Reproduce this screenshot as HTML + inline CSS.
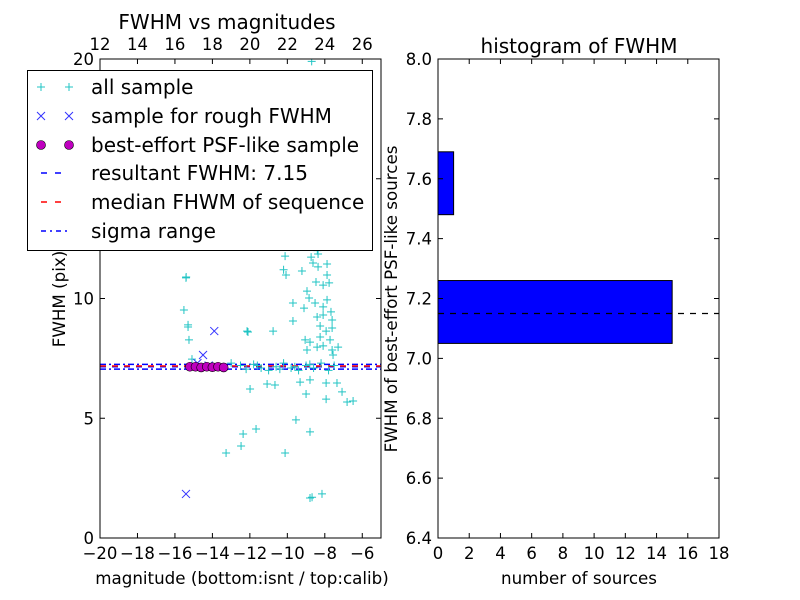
<!DOCTYPE html>
<html><head><meta charset="utf-8"><style>
html,body{margin:0;padding:0;background:#fff;}
svg{display:block;font-family:"DejaVu Sans","Liberation Sans",sans-serif;}
</style></head><body>
<svg id="chart" width="800" height="600" viewBox="0 0 800 600"></svg>
<script>
// ---- data: left scatter ----
const allMag = [-10.12,-8.73,-8.36,-8.63,-7.88,-8.36,-15.41,-10.07,-9.22,-7.88,-8.47,-8.09,-7.77,-8.95,-15.52,-9.70,-8.84,-8.52,-7.88,-8.09,-7.67,-9.11,-8.41,-8.09,-7.61,-9.70,-15.30,-12.15,-10.76,-8.25,-7.61,-7.93,-15.25,-9.05,-8.79,-8.25,-7.72,-8.41,-8.09,-8.95,-7.61,-7.29,-7.56,-15.09,-13.38,-12.5,-12.2,-11.8,-11.4,-11.0,-10.6,-10.2,-9.8,-9.4,-9.0,-8.6,-8.2,-7.8,-7.5,-13.0,-11.6,-10.4,-9.6,-8.8,-11.99,-11.08,-10.66,-9.32,-8.79,-7.93,-7.35,-9.00,-7.93,-7.08,-6.81,-6.49,-9.54,-8.79,-11.67,-12.36,-12.47,-13.27,-10.12,-8.79,-8.15,-8.68,-15.4,-15.3,-12.1,-10.2,-8.7,-8.4];
const allFwhm = [11.77,11.73,11.86,11.48,11.44,11.32,10.86,10.98,11.15,10.98,10.69,10.56,10.65,10.31,9.52,9.81,10.02,9.81,9.94,9.65,9.44,9.60,9.23,9.31,9.10,9.06,8.81,8.64,8.64,8.85,8.77,8.64,8.27,8.27,8.18,8.39,8.27,7.97,8.02,7.85,7.85,7.97,7.64,7.47,7.1,7.2,7.05,7.25,7.1,7.0,7.15,7.3,7.1,7.0,7.2,7.1,7.3,7.0,7.2,7.3,7.2,7.05,7.15,7.25,6.22,6.43,6.39,6.51,6.60,6.47,6.47,6.01,5.80,6.10,5.68,5.72,4.93,4.43,4.55,4.34,3.84,3.55,3.55,1.67,1.84,1.7,10.9,8.9,8.6,11.2,19.9,12.0];
const roughMag = [-15.41,-13.9,-14.5,-14.8,-14.2];
const roughFwhm = [1.84,8.64,7.64,7.3,7.2];
const bestMag = [-15.2,-14.9,-14.6,-14.3,-14.0,-13.7,-13.4];
const bestFwhm = [7.15,7.15,7.12,7.15,7.13,7.15,7.12];
const resultFwhm = 7.15, medianFwhm = 7.18, sigmaLo = 7.05, sigmaHi = 7.25;
const xTicksL = [-20,-18,-16,-14,-12,-10,-8,-6];
const xTopTicks = [12,14,16,18,20,22,24,26];
const yTicksL = [0,5,10,15,20];
// ---- data: histogram ----
const binLo = [7.05,7.48];
const binHi = [7.26,7.69];
const binCount = [15,1];
const xTicksR = [0,2,4,6,8,10,12,14,16,18];
const yTicksR = [6.4,6.6,6.8,7.0,7.2,7.4,7.6,7.8,8.0];

const svg = document.getElementById('chart');
const NS = 'http://www.w3.org/2000/svg';
function mk(tag, attrs, parent, text){
  const e = document.createElementNS(NS, tag);
  for (const k in attrs) e.setAttribute(k, attrs[k]);
  if (text !== undefined) e.textContent = text;
  (parent||svg).appendChild(e); return e;
}
const L = {x0:100,x1:381,y0:538,y1:59};
const xL = v => L.x0 + (v+20)/15*(L.x1-L.x0);
const xTop = v => L.x0 + (v-12)/15*(L.x1-L.x0);
const yL = v => L.y0 - v/20*(L.y0-L.y1);
const R = {x0:438,x1:719,y0:538,y1:59};
const xR = v => R.x0 + v/18*(R.x1-R.x0);
const yR = v => R.y0 - (v-6.4)/1.6*(R.y0-R.y1);

const defs = mk('defs',{});
const cp = mk('clipPath',{id:'clipL'},defs);
mk('rect',{x:L.x0,y:L.y1,width:L.x1-L.x0,height:L.y0-L.y1},cp);

const gL = mk('g',{'clip-path':'url(#clipL)'});


function hline(v, color, dash, name){
  const l = mk('line',{x1:L.x0,x2:L.x1,y1:yL(v),y2:yL(v),stroke:color,'stroke-width':1.5,'stroke-dasharray':dash},gL);
  
  
}
hline(sigmaLo,'#0000ff','6 3 2 3','sigma-low-line');
hline(sigmaHi,'#0000ff','6 3 2 3','sigma-high-line');
hline(resultFwhm,'#0000ff','6 6','resultant-fwhm-line');
hline(medianFwhm,'#ff0000','6 6','median-fwhm-line');
for (let i=0;i<allMag.length;i++){
  const x=xL(allMag[i]), y=yL(allFwhm[i]);
  const p = mk('path',{d:`M${x-4} ${y}H${x+4}M${x} ${y-4}V${y+4}`,stroke:'#22c4c4','stroke-width':1},gL);
  
  
}
for (let i=0;i<roughMag.length;i++){
  const x=xL(roughMag[i]), y=yL(roughFwhm[i]);
  const p = mk('path',{d:`M${x-4} ${y-4}L${x+4} ${y+4}M${x-4} ${y+4}L${x+4} ${y-4}`,stroke:'#3333ff','stroke-width':1},gL);
  
  
}
for (let i=0;i<bestMag.length;i++){
  const c = mk('circle',{cx:xL(bestMag[i]),cy:yL(bestFwhm[i]),r:4.5,fill:'#bf00bf',stroke:'#000','stroke-width':0.6},gL);
  
  
}
mk('rect',{x:L.x0,y:L.y1,width:L.x1-L.x0,height:L.y0-L.y1,fill:'none',stroke:'#000','stroke-width':1});
xTicksL.forEach(v=>{
  const x=xL(v);
  mk('line',{x1:x,x2:x,y1:L.y0,y2:L.y0-5,stroke:'#000'});
  const t = mk('text',{x:x,y:559,'font-size':16.5,'text-anchor':'middle'},svg,v<0?'\u2212'+(-v):String(v));
  
  
});
xTopTicks.forEach(v=>{
  const x=xTop(v);
  mk('line',{x1:x,x2:x,y1:L.y1,y2:L.y1+5,stroke:'#000'});
  const t = mk('text',{x:x,y:50,'font-size':16.5,'text-anchor':'middle'},svg,String(v));
  
  
});
yTicksL.forEach(v=>{
  const y=yL(v);
  mk('line',{x1:L.x0,x2:L.x0+5,y1:y,y2:y,stroke:'#000'});
  mk('line',{x1:L.x1,x2:L.x1-5,y1:y,y2:y,stroke:'#000'});
  const t = mk('text',{x:94,y:y+6,'font-size':16.5,'text-anchor':'end'},svg,String(v));
  
  
});
for (let i=0;i<binLo.length;i++){
  const r = mk('rect',{x:xR(0),y:yR(binHi[i]),width:xR(binCount[i])-xR(0),height:yR(binLo[i])-yR(binHi[i]),fill:'#0000ff',stroke:'#000','stroke-width':1});
  
  
}
const hl = mk('line',{x1:R.x0,x2:R.x1,y1:yR(resultFwhm),y2:yR(resultFwhm),stroke:'#000','stroke-width':1.3,'stroke-dasharray':'6 6'});


mk('rect',{x:R.x0,y:R.y1,width:R.x1-R.x0,height:R.y0-R.y1,fill:'none',stroke:'#000','stroke-width':1});
xTicksR.forEach(v=>{
  const x=xR(v);
  mk('line',{x1:x,x2:x,y1:R.y0,y2:R.y0-5,stroke:'#000'});
  mk('line',{x1:x,x2:x,y1:R.y1,y2:R.y1+5,stroke:'#000'});
  const t = mk('text',{x:x,y:559,'font-size':16.5,'text-anchor':'middle'},svg,String(v));
  
  
});
yTicksR.forEach(v=>{
  const y=yR(v);
  mk('line',{x1:R.x0,x2:R.x0+5,y1:y,y2:y,stroke:'#000'});
  mk('line',{x1:R.x1,x2:R.x1-5,y1:y,y2:y,stroke:'#000'});
  const t = mk('text',{x:432,y:y+6,'font-size':16.5,'text-anchor':'end'},svg,v.toFixed(1));
  
  
});
</script>
<svg style="position:absolute;left:0;top:0" width="800" height="600" font-family="DejaVu Sans, Liberation Sans, sans-serif">
  <text x="227" y="29" font-size="20" text-anchor="middle">FWHM vs magnitudes</text>
  <text x="579" y="53" font-size="20" text-anchor="middle">histogram of FWHM</text>
  <text x="242" y="584" font-size="16.7" text-anchor="middle">magnitude (bottom:isnt / top:calib)</text>
  <text x="579" y="584" font-size="16.7" text-anchor="middle">number of sources</text>
  <text transform="translate(65,299) rotate(-90)" font-size="16.7" text-anchor="middle">FWHM (pix)</text>
  <text transform="translate(397,299) rotate(-90)" font-size="16.7" text-anchor="middle">FWHM of best-effort PSF-like sources</text>
  <g>
    <rect x="27.5" y="70.5" width="345" height="180" fill="#fff" stroke="#000" stroke-width="1"/>
    <path d="M37 87H45M41 83V91M65 87H73M69 83V91" stroke="#22c4c4"/>
    <text x="91" y="94" font-size="20">all sample</text>
    <path d="M37 112L45 120M37 120L45 112M65 112L73 120M65 120L73 112" stroke="#3333ff"/>
    <text x="91" y="123" font-size="20">sample for rough FWHM</text>
    <circle cx="41" cy="145" r="4.5" fill="#bf00bf" stroke="#000" stroke-width="0.6"/>
    <circle cx="69" cy="145" r="4.5" fill="#bf00bf" stroke="#000" stroke-width="0.6"/>
    <text x="91" y="152" font-size="20">best-effort PSF-like sample</text>
    <line x1="41" x2="69" y1="173" y2="173" stroke="#0000ff" stroke-width="1.5" stroke-dasharray="6 8"/>
    <text x="91" y="180" font-size="20">resultant FWHM: 7.15</text>
    <line x1="41" x2="69" y1="202" y2="202" stroke="#ff0000" stroke-width="1.5" stroke-dasharray="6 8"/>
    <text x="91" y="209" font-size="20">median FHWM of sequence</text>
    <line x1="41" x2="69" y1="231" y2="231" stroke="#0000ff" stroke-width="1.5" stroke-dasharray="5 4 2 4"/>
    <text x="91" y="238" font-size="20">sigma range</text>
  </g>
</svg>
</body></html>
